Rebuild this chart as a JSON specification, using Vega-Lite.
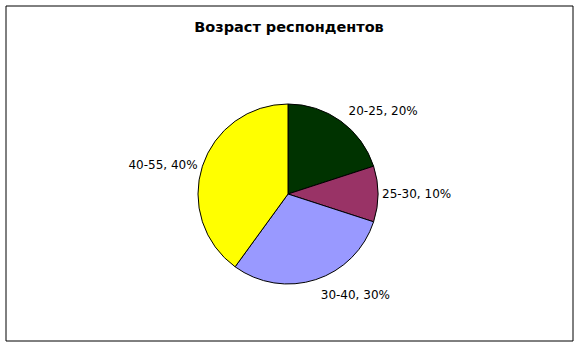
{
  "$schema": "https://vega.github.io/schema/vega-lite/v6.json",
  "width": 567,
  "height": 335,
  "autosize": {"type": "none"},
  "padding": {"left": 5.5, "top": 5.5, "right": 5.5, "bottom": 5.5},
  "background": "white",
  "view": {"stroke": "black", "strokeWidth": 1},
  "config": {"view": {"stroke": "black", "strokeWidth": 1}},
  "title": {
    "text": "Возраст респондентов",
    "font": "DejaVu Sans",
    "fontSize": 14.5,
    "fontWeight": "bold",
    "color": "black",
    "anchor": "middle",
    "frame": "group",
    "baseline": "alphabetic",
    "offset": -27.5,
    "dy": 13
  },
  "data": {
    "values": [
      {"age": "20-25", "pct": 20},
      {"age": "25-30", "pct": 10},
      {"age": "30-40", "pct": 30},
      {"age": "40-55", "pct": 40}
    ]
  },
  "transform": [{"calculate": "datum.age + ', ' + datum.pct + '%'", "as": "label"}],
  "encoding": {
    "theta": {"field": "pct", "type": "quantitative", "stack": true},
    "order": {"field": "age", "type": "ordinal"}
  },
  "layer": [
    {
      "mark": {"type": "arc", "radius": 90, "stroke": "black", "strokeWidth": 1, "xOffset": -1, "yOffset": 21},
      "encoding": {
        "color": {
          "field": "age",
          "type": "nominal",
          "scale": {"domain": ["20-25", "25-30", "30-40", "40-55"], "range": ["#003300", "#993366", "#9999FF", "#FFFF00"]},
          "legend": null
        }
      }
    },
    {
      "mark": {"type": "text", "radius": 103, "align": "left", "baseline": "middle", "font": "DejaVu Sans", "fontSize": 12, "color": "black", "xOffset": -1, "yOffset": 21},
      "encoding": {"text": {"condition": {"test": "datum.age == '20-25'", "field": "label"}, "value": ""}}
    },
    {
      "mark": {"type": "text", "radius": 94, "align": "left", "baseline": "middle", "font": "DejaVu Sans", "fontSize": 12, "color": "black", "xOffset": -1, "yOffset": 21},
      "encoding": {"text": {"condition": {"test": "datum.age == '25-30'", "field": "label"}, "value": ""}}
    },
    {
      "mark": {"type": "text", "radius": 106, "align": "left", "baseline": "middle", "font": "DejaVu Sans", "fontSize": 12, "color": "black", "xOffset": -1, "yOffset": 21},
      "encoding": {"text": {"condition": {"test": "datum.age == '30-40'", "field": "label"}, "value": ""}}
    },
    {
      "mark": {"type": "text", "radius": 95, "align": "right", "baseline": "middle", "font": "DejaVu Sans", "fontSize": 12, "color": "black", "xOffset": -1, "yOffset": 21},
      "encoding": {"text": {"condition": {"test": "datum.age == '40-55'", "field": "label"}, "value": ""}}
    }
  ]
}
